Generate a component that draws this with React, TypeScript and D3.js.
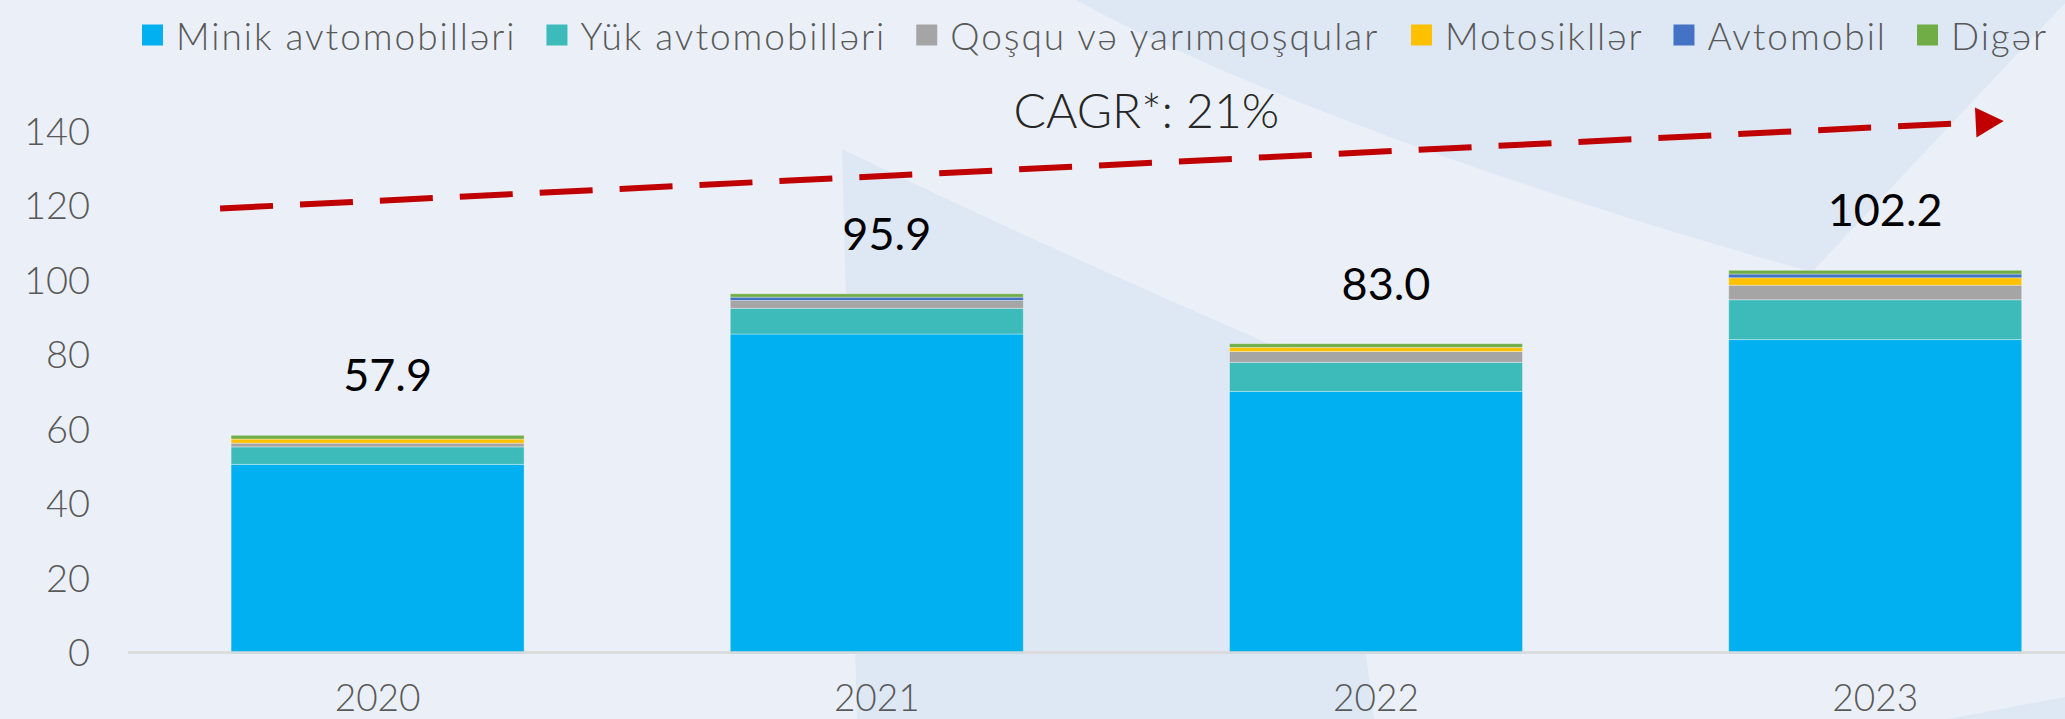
import React from "react";
import * as d3 from "d3";

const years = ["2020", "2021", "2022", "2023"];
const minik = [50.1, 85.1, 69.7, 83.6];
const yuk = [4.7, 6.9, 7.8, 10.7];
const qosqu = [1.0, 2.1, 2.9, 3.9];
const moto = [1.1, 0, 1.1, 2.0];
const avto = [0, 0.9, 0, 1.0];
const diger = [1.0, 0.9, 1.0, 1.0];
const totalLabels = ["57.9", "95.9", "83.0", "102.2"];
const seriesNames = [
  "Minik avtomobilləri",
  "Yük avtomobilləri",
  "Qoşqu və yarımqoşqular",
  "Motosikllər",
  "Avtomobil",
  "Digər",
];
const seriesColors = ["#00B0F0", "#3DBBBB", "#A5A5A5", "#FFC000", "#4472C4", "#70AD47"];
const yTicks = [0, 20, 40, 60, 80, 100, 120, 140];
const cagrText = "CAGR*: 21%";
const cagrFrom = 118.8;
const cagrTo = 142.2;

const W = 2065;
const H = 719;
const FONT = "Lato, 'Noto Sans', sans-serif";

function measure(text: string, font: string): number {
  const c = document.createElement("canvas");
  const ctx = c.getContext("2d");
  if (!ctx) return text.length * 16;
  ctx.font = font;
  return ctx.measureText(text).width;
}

export default function App() {
  const x = d3.scaleBand<string>().domain(years).range([128, 128 + 4 * 499.2]).paddingInner(0.413).paddingOuter(0.2065);
  const y = d3.scaleLinear().domain([0, 140]).range([651, 129.5]);
  const bw = x.bandwidth();

  const rows = years.map((yr, i) => ({
    year: yr,
    s0: minik[i],
    s1: yuk[i],
    s2: qosqu[i],
    s3: moto[i],
    s4: avto[i],
    s5: diger[i],
  }));
  const keys = ["s0", "s1", "s2", "s3", "s4", "s5"];
  const stacked = d3.stack<any>().keys(keys)(rows);

  // legend layout
  const legFontSize = 37;
  const legFont = `300 ${legFontSize}px Lato`;
  const sq = 21;
  const sqGap = 13;
  const legLeft = 142;
  const legRight = 2048;
  const itemGap = 30;
  const rawW = seriesNames.map((n) => measure(n, legFont));
  const nChars = seriesNames.reduce((a, n) => a + n.length, 0);
  const free = legRight - legLeft - seriesNames.length * (sq + sqGap) - (seriesNames.length - 1) * itemGap;
  const ls = Math.max(0, (free - rawW.reduce((a, b) => a + b, 0)) / nChars);
  const widths = seriesNames.map((n, i) => rawW[i] + n.length * ls);
  const legX: number[] = [];
  let cx = legLeft;
  widths.forEach((w) => {
    legX.push(cx);
    cx += sq + sqGap + w + itemGap;
  });
  const legY = 35;

  // CAGR arrow
  const x0 = (x("2020") as number) - 11;
  const x1 = (x("2023") as number) + bw - 46;
  const p0 = [x0, y(cagrFrom)];
  const p1 = [x1, y(cagrTo - 0.3)];
  const dx = p1[0] - p0[0];
  const dy = p1[1] - p0[1];
  const len = Math.sqrt(dx * dx + dy * dy);
  const ux = dx / len;
  const uy = dy / len;
  const tip = [p1[0] + ux * 28, p1[1] + uy * 28];
  const hw = 15;
  const arrow = `M${p1[0] - uy * hw},${p1[1] + ux * hw}L${tip[0]},${tip[1]}L${p1[0] + uy * hw},${p1[1] - ux * hw}Z`;
  const cagrX = ((x("2021") as number) + (x("2022") as number)) / 2 + bw / 2 + 20;

  return (
    <svg width={W} height={H} style={{ position: "absolute", left: 0, top: 0, display: "block" }} fontFamily={FONT}>
      <rect x={0} y={0} width={W} height={H} fill="#EBF0F8" />
      <path d="M1076,0 C1250,95 1550,200 1812,272 L2068,0 Z" fill="#DEE7F4" />
      <path d="M842,149 L857,719 L1374,719 L1330,370 Q1050,250 842,149 Z" fill="#DEE7F4" />
      <path d="M1948,719 L2065,697 L2065,719 Z" fill="#DEE7F4" />

      {/* legend */}
      {seriesNames.map((n, i) => (
        <g key={n}>
          <rect x={legX[i]} y={legY - sq / 2} width={sq} height={sq} fill={seriesColors[i]} />
          <text
            x={legX[i] + sq + sqGap}
            y={legY}
            dominantBaseline="central"
            fontSize={legFontSize}
            fontWeight={300}
            letterSpacing={ls}
            fill="#595959"
          >
            {n}
          </text>
        </g>
      ))}

      {/* y ticks */}
      {yTicks.map((t) => (
        <text key={t} x={90} y={y(t)} textAnchor="end" dominantBaseline="central" fontSize={38} fontWeight={300} fill="#595959">
          {t}
        </text>
      ))}

      {/* bars */}
      {stacked.map((layer, li) => (
        <g key={layer.key} fill={seriesColors[li]}>
          {layer.map((d: any, i: number) => {
            const h = y(d[0]) - y(d[1]);
            if (h <= 0) return null;
            return (
              <rect
                key={i}
                x={x(years[i])}
                y={y(d[1])}
                width={bw}
                height={h + (li === 0 ? 2.5 : 0)}
                stroke="rgba(255,255,255,0.35)"
                strokeWidth={1}
              />
            );
          })}
        </g>
      ))}

      {/* x axis */}
      <line x1={128} x2={W} y1={652.5} y2={652.5} stroke="#D9D9D9" strokeWidth={2.5} />
      {years.map((yr) => (
        <text key={yr} x={(x(yr) as number) + bw / 2} y={711} textAnchor="middle" fontSize={37} fontWeight={300} fill="#595959">
          {yr}
        </text>
      ))}

      {/* totals */}
      {years.map((yr, i) => {
        const tot = minik[i] + yuk[i] + qosqu[i] + moto[i] + avto[i] + diger[i];
        return (
          <text key={yr} x={(x(yr) as number) + bw / 2 + 10} y={y(tot) - 44} textAnchor="middle" fontSize={45} fill="#000000">
            {totalLabels[i]}
          </text>
        );
      })}

      {/* CAGR */}
      <line
        x1={p0[0]}
        y1={p0[1]}
        x2={p1[0]}
        y2={p1[1]}
        stroke="#C00000"
        strokeWidth={6}
        strokeDasharray="53 27"
      />
      <path d={arrow} fill="#C00000" />
      <text x={cagrX} y={128} textAnchor="middle" fontSize={48} fontWeight={300} fill="#262626">
        {cagrText}
      </text>
    </svg>
  );
}
